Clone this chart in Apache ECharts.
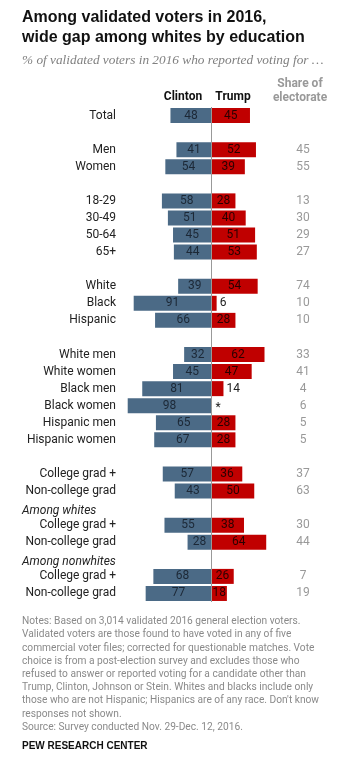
<!DOCTYPE html>
<html>
<head>
<meta charset="utf-8">
<script src="https://cdn.jsdelivr.net/npm/echarts@6/dist/echarts.min.js"></script>
<style>
  html, body { margin: 0; padding: 0; background: #fff; }
  #chart { width: 351px; height: 767px; }
</style>
</head>
<body>
<div id="chart"></div>
<script>
  // rows, top to bottom ('' = spacer row)
  const categories = ['Total', '', 'Men', 'Women', '', '18-29', '30-49', '50-64', '65+', '',
    'White', 'Black', 'Hispanic', '', 'White men', 'White women', 'Black men', 'Black women',
    'Hispanic men', 'Hispanic women', '', 'College grad +', 'Non-college grad', 'Among whites',
    'College grad +', 'Non-college grad', 'Among nonwhites', 'College grad +', 'Non-college grad'];
  const groupHeaders = ['Among whites', 'Among nonwhites'];
  const clinton = [48, null, 41, 54, null, 58, 51, 45, 44, null, 39, 91, 66, null, 32, 45, 81, 98,
    65, 67, null, 57, 43, null, 55, 28, null, 68, 77];
  // '*' = less than 0.5%
  const trump = [45, null, 52, 39, null, 28, 40, 51, 53, null, 54, 6, 28, null, 62, 47, 14, '*',
    28, 28, null, 36, 50, null, 38, 64, null, 26, 18];
  const share = [null, null, 45, 55, null, 13, 30, 29, 27, null, 74, 10, 10, null, 33, 41, 4, 6,
    5, 5, null, 37, 63, null, 30, 44, null, 7, 19];

  const notes = [
    'Notes: Based on 3,014 validated 2016 general election voters.',
    'Validated voters are those found to have voted in any of five',
    'commercial voter files; corrected for questionable matches. Vote',
    'choice is from a post-election survey and excludes those who',
    'refused to answer or reported voting for a candidate other than',
    'Trump, Clinton, Johnson or Stein. Whites and blacks include only',
    'those who are not Hispanic; Hispanics are of any race. Don\'t know',
    'responses not shown.',
    'Source: Survey conducted Nov. 29-Dec. 12, 2016.'
  ];

  const FONT = 'Roboto, "Liberation Sans", sans-serif';
  const BLUE = '#4b6a86';
  const RED = '#c00000';

  const chart = echarts.init(document.getElementById('chart'));

  // Clinton drawn to the left of zero, Trump to the right; both bars share one slot
  const clintonData = clinton.map((v) => (v == null ? null : -v));
  const trumpData = trump.map((v) => {
    if (v == null) return null;
    if (v === '*') return { value: 0, label: { position: 'right', distance: 4, color: '#222', offset: [0, 2] } };
    if (v < 15) return { value: v, label: { position: 'right', distance: 3, color: '#222' } };
    return v;
  });

  const option = {
    animation: false,
    textStyle: { fontFamily: FONT },
    grid: { left: 126, width: 171, top: 107, height: 495 },
    xAxis: {
      type: 'value', min: -100, max: 100, show: false
    },
    yAxis: [
      {
        type: 'category', inverse: true, data: categories,
        axisLine: { show: false }, axisTick: { show: false },
        axisLabel: {
          margin: 10, fontSize: 12, color: '#222', fontFamily: FONT,
          formatter: (v) => (groupHeaders.includes(v) ? '{h|' + v + '}' : v),
          rich: {
            h: {
              width: 94, align: 'left', fontStyle: 'italic', fontSize: 12, color: '#222',
              fontFamily: FONT, padding: [6, 0, 0, 0]
            }
          }
        }
      },
      {
        type: 'category', inverse: true, position: 'right',
        data: share.map((v) => (v == null ? '' : String(v))),
        axisLine: { show: false }, axisTick: { show: false },
        axisLabel: { margin: 6, align: 'center', fontSize: 12, color: '#999', fontFamily: FONT }
      }
    ],
    series: [
      {
        name: 'Clinton', type: 'bar', barWidth: 15, barGap: '-100%',
        itemStyle: { color: BLUE },
        label: {
          show: true, position: 'inside', fontSize: 12, color: '#1c2836', fontFamily: FONT,
          formatter: (p) => Math.abs(p.value)
        },
        data: clintonData
      },
      {
        name: 'Trump', type: 'bar', barWidth: 15, barGap: '-100%',
        itemStyle: { color: RED },
        label: {
          show: true, position: 'inside', fontSize: 12, color: '#2a0000', fontFamily: FONT,
          formatter: (p) => (trump[p.dataIndex] === '*' ? '*' : p.value)
        },
        data: trumpData,
        markLine: {
          silent: true, symbol: 'none', label: { show: false },
          lineStyle: { color: '#999', width: 1, type: 'solid' },
          data: [{ xAxis: 0 }]
        }
      }
    ],
    graphic: [
      {
        type: 'text', left: 22, top: 8,
        style: {
          text: 'Among validated voters in 2016,\nwide gap among whites by education',
          font: 'bold 16px "Liberation Sans", sans-serif', fill: '#111', lineHeight: 20
        }
      },
      {
        type: 'text', left: 22, top: 54,
        style: {
          text: '% of validated voters in 2016 who reported voting for \u2026',
          font: 'italic 13.3px "Liberation Serif", serif', fill: '#808080'
        }
      },
      {
        type: 'text', x: 300, y: 77,
        style: {
          text: 'Share of\nelectorate', align: 'center', lineHeight: 14,
          font: 'bold 12px ' + FONT, fill: '#999'
        }
      },
      {
        type: 'text', x: 183, y: 91,
        style: { text: 'Clinton', align: 'center', font: 'bold 12px ' + FONT, fill: '#111' }
      },
      {
        type: 'text', x: 233, y: 91,
        style: { text: 'Trump', align: 'center', font: 'bold 12px ' + FONT, fill: '#111' }
      },
      {
        type: 'text', left: 22, top: 615,
        style: {
          text: notes.join('\n'), lineHeight: 13.2,
          font: '10.2px ' + FONT, fill: '#8a8a8a'
        }
      },
      {
        type: 'text', left: 22, top: 741,
        style: { text: 'PEW RESEARCH CENTER', font: 'bold 10px "Liberation Sans", sans-serif', fill: '#111' }
      }
    ]
  };

  chart.setOption(option);
</script>
</body>
</html>
